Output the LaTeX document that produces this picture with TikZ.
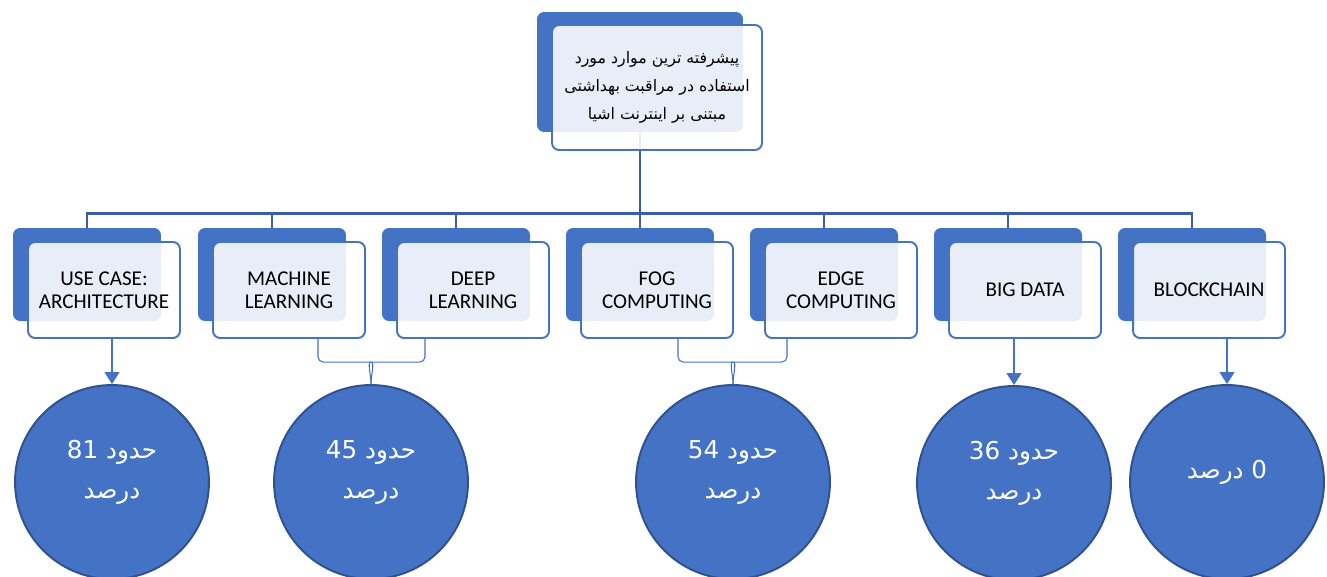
\documentclass[tikz,border=0pt]{standalone}
\usepackage{fontspec}
\setmainfont{Carlito}
\newfontfamily\arabicfont[Script=Arabic]{DejaVu Sans}
\TeXXeTstate=1
\usetikzlibrary{calc,arrows.meta}
\definecolor{accent}{HTML}{4472C4}
\definecolor{accentdark}{HTML}{2F528F}
\definecolor{treeblue}{HTML}{3A5EA5}
\tikzset{
  backbox/.style={fill=accent, rounded corners=4pt, minimum width=2.96cm, minimum height=1.86cm},
  frontbox/.style={draw=accent, line width=1.1pt, fill=white, fill opacity=0.88, text opacity=1,
    rounded corners=4pt, minimum width=3.04cm, minimum height=1.92cm, align=center,
    font=\fontsize{12}{13}\selectfont},
  rootback/.style={backbox, minimum width=4.12cm, minimum height=2.4cm},
  rootfront/.style={frontbox, minimum width=4.2cm, minimum height=2.5cm,
    font=\arabicfont\fontsize{9}{16}\selectfont},
  tree/.style={treeblue, line width=1.5pt},
  pointer/.style={accent, line width=0.6pt, -{Triangle[width=8.5pt,length=6.8pt]}},
  brace/.style={accent, line width=0.6pt, rounded corners=3pt},
  share/.style={circle, fill=accent, draw=accentdark, line width=1.1pt, minimum size=3.88cm, inner sep=0pt},
  sharetext/.style={text=white, align=center, yshift=5.5pt, font=\arabicfont\fontsize{14}{23}\selectfont}
}

\begin{document}
\begin{tikzpicture}[x=0.02cm, y=-0.02cm]
			%%%%% START %%%%%
			\useasboundingbox (0, 0) rectangle (1327, 576);
			
			% back boxes
			\node[rootback] (root-b) at (640, 72) {};
			\foreach \cx/\nm in {87/uc, 272/ml, 456/dl, 640/fog, 824/edge, 1008/bd, 1192/bc}
				\node[backbox] (\nm-b) at (\cx, 274.5) {};
			
			% tree
			\foreach \nm in {uc, ml, dl, fog, edge, bd, bc}
				\draw[tree] (root-b.south) -- ++(0, 81) -| (\nm-b.north);
			
			% front boxes
			\node[rootfront] (root) at (657, 87.5) {\beginR پیشرفته ترین موارد مورد\endR\\\beginR استفاده در مراقبت بهداشتی\endR\\\beginR مبتنی بر اینترنت اشیا\endR};
			\foreach \cx/\nm/\txt in {87/uc/{USE CASE:\\ARCHITECTURE}, 272/ml/{MACHINE\\LEARNING}, 456/dl/{DEEP\\LEARNING},
					640/fog/{FOG\\COMPUTING}, 824/edge/{EDGE\\COMPUTING}, 1008/bd/{BIG DATA}, 1192/bc/{BLOCKCHAIN}}
				\node[frontbox] (\nm) at (\cx + 17, 290) {\txt};
			
			% circles
			\node[share, label={[sharetext]center:{\beginR حدود 81\endR\\\beginR درصد\endR}}] (c1) at (112, 482) {};
			\node[share, label={[sharetext]center:{\beginR حدود 45\endR\\\beginR درصد\endR}}] (c2) at (371, 482) {};
			\node[share, label={[sharetext]center:{\beginR حدود 54\endR\\\beginR درصد\endR}}] (c3) at (733, 482) {};
			\node[share, label={[sharetext]center:{\beginR حدود 36\endR\\\beginR درصد\endR}}] (c4) at (1014, 483) {};
			\node[share, label={[sharetext]center:{\beginR 0 درصد\endR}}] (c5) at (1227, 482) {};
			
			% arrows
			\draw[pointer] (uc.south -| c1.north) -- (c1.north);
			\draw[pointer] (bd.south -| c4.north) -- (c4.north);
			\draw[pointer] (bc.south -| c5.north) -- (c5.north);
			
			% braces
			\coordinate (c2l) at ($(c2.north) + (-53, 0)$);
			\coordinate (c2r) at ($(c2.north) + (54, 0)$);
			\coordinate (c3l) at ($(c3.north) + (-55, 0)$);
			\coordinate (c3r) at ($(c3.north) + (54, 0)$);
			\draw[brace] (c2l |- ml.south) |- ($(c2.north) + (-5, -22)$) to[out=0, in=90] (c2.north);
			\draw[brace] (c2r |- dl.south) |- ($(c2.north) + (5, -22)$) to[out=180, in=90] (c2.north);
			\draw[brace] (c3l |- fog.south) |- ($(c3.north) + (-5, -22)$) to[out=0, in=90] (c3.north);
			\draw[brace] (c3r |- edge.south) |- ($(c3.north) + (5, -22)$) to[out=180, in=90] (c3.north);
			
			%%%%% END %%%%%
\end{tikzpicture}
\end{document}
